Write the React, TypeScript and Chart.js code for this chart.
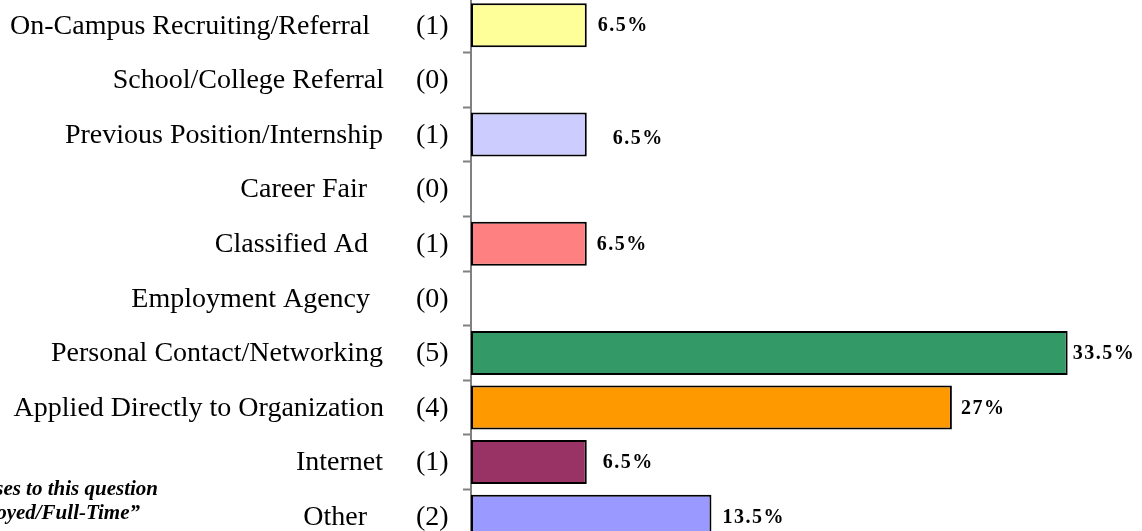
import React, { useEffect, useRef } from "react";
import { Chart, registerables } from "chart.js";

Chart.register(...registerables);

const categories = [
  "On-Campus Recruiting/Referral",
  "School/College Referral",
  "Previous Position/Internship",
  "Career Fair",
  "Classified Ad",
  "Employment Agency",
  "Personal Contact/Networking",
  "Applied Directly to Organization",
  "Internet",
  "Other",
];
const counts = [1, 0, 1, 0, 1, 0, 5, 4, 1, 2];
const percents = [6.5, 0, 6.5, 0, 6.5, 0, 33.5, 27, 6.5, 13.5];
const percentLabels = ["6.5%", "", "6.5%", "", "6.5%", "", "33.5%", "27%", "6.5%", "13.5%"];
const barColors = [
  "#FFFF99",
  "#FFFF99",
  "#CCCCFF",
  "#CCCCFF",
  "#FF8080",
  "#FF8080",
  "#339966",
  "#FF9900",
  "#993366",
  "#9999FF",
];
const footnoteLines = [
  "*Percentages based on total responses to this question",
  "from those \u201cEmployed/Full-Time\u201d",
];

// styling offsets (not data)
const nameRightEdge = [370, 384, 383, 367, 368, 370, 383, 384, 383, 367];
const labelDx = [11, 0, 26, 0, 10, 0, 5, 9, 16, 11];
const labelDy = [0, 0, 3, 0, 0, 0, 0, 0, 0, 0];

const CANVAS_TOP = -2;

const textPlugin = {
  id: "textPlugin",
  afterDraw(chart: any) {
    const ctx = chart.ctx as CanvasRenderingContext2D;
    const yScale = chart.scales.y;
    const xScale = chart.scales.x;
    ctx.save();
    ctx.fillStyle = "#000";
    ctx.textBaseline = "middle";
    ctx.font = '28px "Liberation Serif", "Times New Roman", serif';
    categories.forEach((name, i) => {
      const y = yScale.getPixelForValue(i) + 1;
      ctx.textAlign = "right";
      ctx.fillText(name, nameRightEdge[i], y);
      ctx.textAlign = "left";
      ctx.fillText("(" + counts[i] + ")", 416, y);
    });
    ctx.font = 'bold 20px "Liberation Serif", "Times New Roman", serif';
    (ctx as any).letterSpacing = "1.5px";
    ctx.textAlign = "left";
    percents.forEach((v, i) => {
      if (!percentLabels[i]) return;
      const x = xScale.getPixelForValue(v) + labelDx[i];
      const y = yScale.getPixelForValue(i) + 1 + labelDy[i];
      ctx.fillText(percentLabels[i], x, y);
    });
    (ctx as any).letterSpacing = "0px";
    ctx.font = 'italic bold 21px "Liberation Serif", "Times New Roman", serif';
    ctx.textAlign = "right";
    ctx.textBaseline = "alphabetic";
    ctx.fillText(footnoteLines[0], 158, 495 - CANVAS_TOP);
    ctx.fillText(footnoteLines[1], 140, 519 - CANVAS_TOP);
    ctx.restore();
  },
};

export default function App() {
  const ref = useRef<HTMLCanvasElement>(null);
  useEffect(() => {
    if (!ref.current) return;
    const chart = new Chart(ref.current, {
      type: "bar",
      data: {
        labels: categories,
        datasets: [
          {
            data: percents,
            backgroundColor: barColors,
            borderColor: "#000",
            borderWidth: 2,
            borderSkipped: false,
            barPercentage: 1,
            categoryPercentage: 0.805,
          },
        ],
      },
      options: {
        indexAxis: "y",
        animation: false,
        responsive: false,
        devicePixelRatio: 1,
        layout: { padding: { left: 0, right: 12, top: 0, bottom: 0 } },
        plugins: { legend: { display: false }, tooltip: { enabled: false } },
        scales: {
          x: { display: false, min: 0, max: 37 },
          y: {
            type: "category",
            offset: true,
            ticks: { display: false },
            grid: {
              offset: true,
              drawOnChartArea: false,
              drawTicks: true,
              tickLength: 8,
              tickWidth: 2,
              color: "#808080",
            },
            border: { display: true, color: "#808080", width: 2 },
            afterFit(scale: any) {
              scale.width = 471;
            },
          },
        },
      },
      plugins: [textPlugin],
    } as any);
    return () => chart.destroy();
  }, []);
  return (
    <div
      style={{
        position: "fixed",
        left: 0,
        top: 0,
        width: 1142,
        height: 531,
        overflow: "hidden",
        background: "#fff",
      }}
    >
      <canvas
        ref={ref}
        width={1142}
        height={546}
        style={{ position: "absolute", left: 0, top: CANVAS_TOP, width: 1142, height: 546 }}
      />
    </div>
  );
}
